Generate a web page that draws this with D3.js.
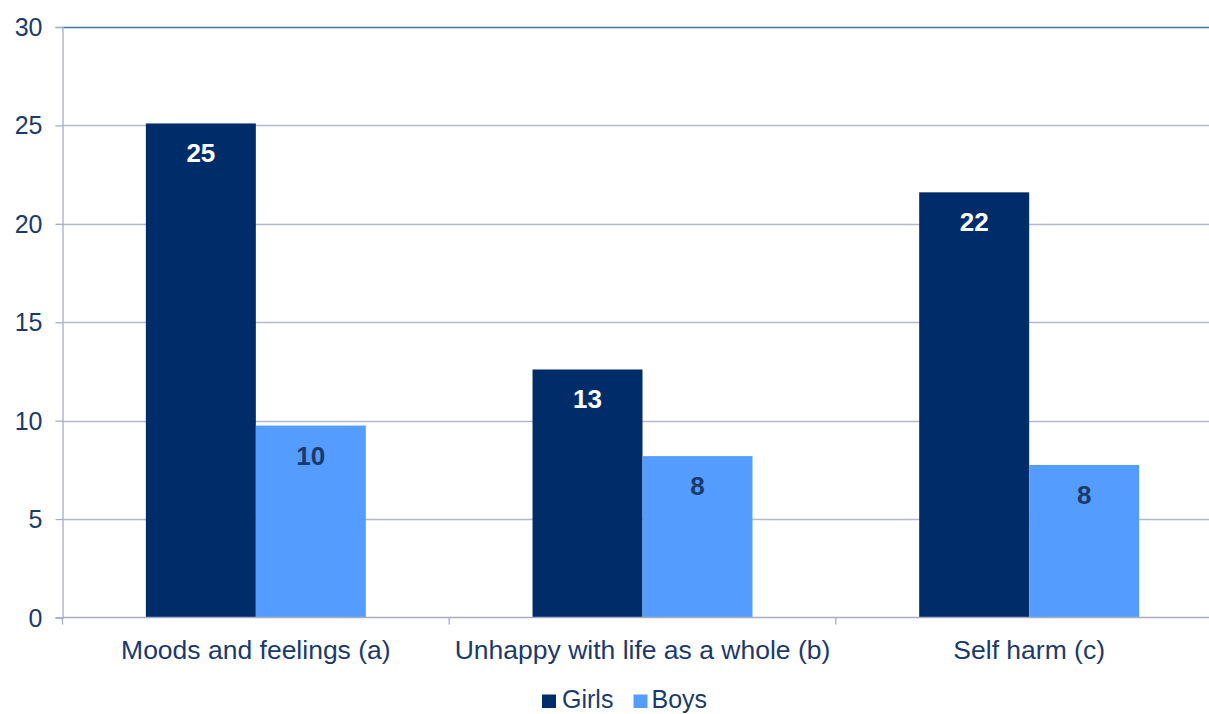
<!DOCTYPE html>
<html><head><meta charset="utf-8">
<script src="https://cdn.jsdelivr.net/npm/d3@7"></script>
<style>body{margin:0;background:#fff;overflow:hidden}svg{display:block;font-family:"Liberation Sans",Arial,sans-serif}</style>
</head><body><svg id="c" width="1209" height="714"></svg>
<script>
const categories = ["Moods and feelings (a)", "Unhappy with life as a whole (b)", "Self harm (c)"];
const series = ["Girls", "Boys"];
const girls = [25.1, 12.6, 21.6];
const boys = [9.75, 8.2, 7.75];
const labelsGirls = ["25", "13", "22"];
const labelsBoys = ["10", "8", "8"];
const yTicks = [0, 5, 10, 15, 20, 25, 30];

const colors = {Girls: "#002C69", Boys: "#559CFF"};
const textColor = "#1B3A6B";
const svg = d3.select("#c");
const pLeft = 62.5, pRight = 1222.5, pTop = 27, pBottom = 617.5;

const x0 = d3.scaleBand().domain(categories).range([pLeft, pRight]).paddingInner(0).paddingOuter(0);
const x1 = d3.scaleBand().domain(series).range([0, x0.bandwidth()]).paddingOuter(0.758).paddingInner(0);
const y = d3.scaleLinear().domain([0, 30]).range([pBottom, pTop]);

// gridlines
svg.append("g").selectAll("line").data(yTicks.filter(d => d > 0)).join("line")
  .attr("x1", pLeft).attr("x2", pRight)
  .attr("y1", d => Math.round(y(d)) + 0.5).attr("y2", d => Math.round(y(d)) + 0.5)
  .attr("stroke", d => d === 30 ? "#4A6FA5" : "#B4B7C9").attr("stroke-width", 1.3);

// y axis
const yAxis = d3.axisLeft(y).tickValues(yTicks).tickSize(7).tickPadding(13);
const gy = svg.append("g").attr("transform", `translate(${pLeft},0)`).call(yAxis);
gy.attr("font-size", null).attr("font-family", null);
gy.select(".domain").attr("stroke", "#A9ACC0").attr("stroke-width", 1.3);
gy.selectAll(".tick line").attr("stroke", "#A9ACC0").attr("stroke-width", 1.3);
gy.selectAll(".tick text").attr("fill", textColor).style("font-size", "25px").attr("dy", "0.34em");

// bars
const rows = categories.map((c, i) => ({c, vals: [{s: "Girls", v: girls[i], l: labelsGirls[i]}, {s: "Boys", v: boys[i], l: labelsBoys[i]}]}));
const g = svg.append("g").selectAll("g").data(rows).join("g")
  .attr("transform", d => `translate(${x0(d.c)},0)`);
g.selectAll("rect").data(d => d.vals).join("rect")
  .attr("x", d => x1(d.s)).attr("width", x1.bandwidth())
  .attr("y", d => y(d.v)).attr("height", d => y(0) - y(d.v))
  .attr("fill", d => colors[d.s]);
g.selectAll("text").data(d => d.vals).join("text")
  .attr("x", d => x1(d.s) + x1.bandwidth() / 2).attr("y", d => y(d.v) + 39)
  .attr("text-anchor", "middle").style("font-size", "26px").attr("font-weight", "bold")
  .attr("fill", d => d.s === "Girls" ? "#FFFFFF" : "#1B3A6B")
  .text(d => d.l);

// x axis
const xAxis = d3.axisBottom(x0).tickSize(0).tickPadding(0);
const gx = svg.append("g").attr("transform", `translate(0,${pBottom})`).call(xAxis);
gx.attr("font-size", null).attr("font-family", null);
gx.select(".domain").remove();
gx.append("line").attr("x1", pLeft).attr("x2", pRight).attr("stroke", "#A9ACC0").attr("stroke-width", 1.3);
gx.selectAll(".bt").data(categories.map(c => x0(c)).concat([pRight])).join("line").attr("class", "bt")
  .attr("x1", d => d).attr("x2", d => d).attr("y1", 0).attr("y2", 7)
  .attr("stroke", "#A9ACC0").attr("stroke-width", 1.3);
gx.selectAll(".tick text").attr("fill", textColor).style("font-size", "26.5px").attr("y", 41).attr("dy", 0);

// legend
const legend = svg.append("g").attr("transform", "translate(542,708)");
const items = [{s: "Girls", x: 0, t: 20}, {s: "Boys", x: 91.5, t: 18}];
const li = legend.selectAll("g").data(items).join("g").attr("transform", d => `translate(${d.x},0)`);
li.append("rect").attr("x", 0).attr("y", -13.5).attr("width", 14).attr("height", 13.5).attr("fill", d => colors[d.s]);
li.append("text").attr("x", d => d.t).attr("y", 0).style("font-size", "25px").attr("fill", textColor).text(d => d.s);
</script></body></html>
